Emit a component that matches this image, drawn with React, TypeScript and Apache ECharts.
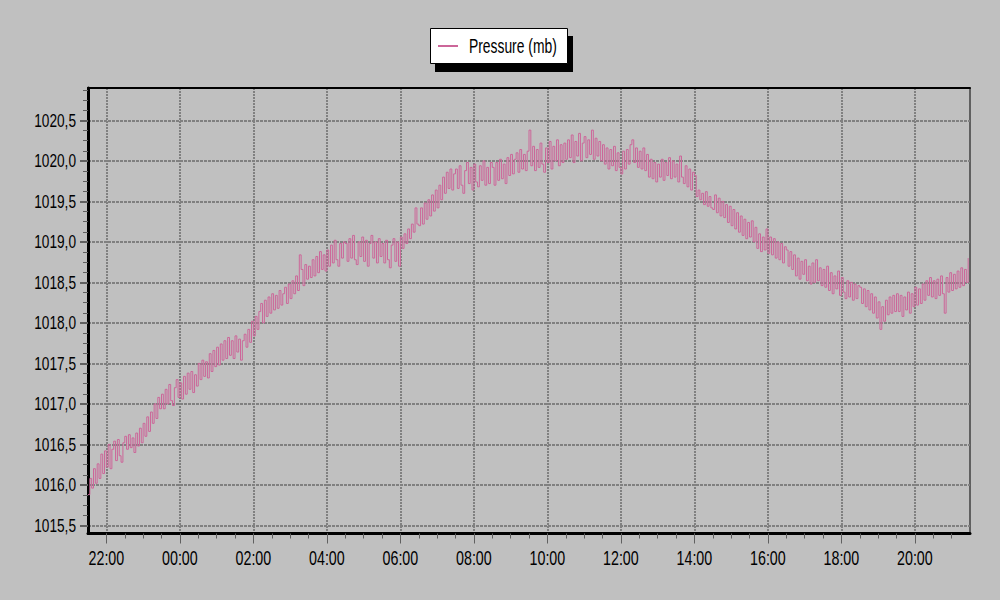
import React, { useEffect, useRef } from "react";
import * as echarts from "echarts";

const seriesName = "Pressure (mb)";
const startHour = 21.5; // 21:30 on day one
const endHour = 45.5; // 21:30 on day two
const stepMinutes = 3;

// one row per hour, one sample every 3 minutes, starting 21:30
const pressure = [
  1015.88, 1016.08, 1015.96, 1016.2, 1016.02, 1016.26, 1016.08, 1016.38, 1016.14, 1016.42, 1016.22, 1016.5, 1016.2, 1016.44, 1016.54, 1016.3, 1016.56, 1016.36, 1016.28, 1016.52,
  1016.6, 1016.44, 1016.62, 1016.46, 1016.58, 1016.4, 1016.64, 1016.48, 1016.7, 1016.52, 1016.76, 1016.6, 1016.84, 1016.66, 1016.9, 1016.76, 1017.0, 1016.82, 1017.08, 1016.94,
  1017.12, 1016.94, 1017.18, 1017.0, 1017.24, 1017.04, 1016.98, 1017.2, 1017.3, 1017.08, 1017.26, 1017.06, 1017.34, 1017.12, 1017.38, 1017.18, 1017.4, 1017.14, 1017.36, 1017.22,
  1017.5, 1017.3, 1017.54, 1017.34, 1017.52, 1017.32, 1017.62, 1017.4, 1017.66, 1017.46, 1017.7, 1017.48, 1017.74, 1017.54, 1017.78, 1017.56, 1017.82, 1017.6, 1017.78, 1017.56,
  1017.84, 1017.64, 1017.8, 1017.54, 1017.78, 1017.86, 1017.7, 1017.92, 1017.76, 1018.02, 1017.84, 1018.08, 1017.92, 1018.14, 1018.24, 1018.0, 1018.28, 1018.08, 1018.32, 1018.12,
  1018.36, 1018.16, 1018.34, 1018.18, 1018.4, 1018.22, 1018.36, 1018.44, 1018.24, 1018.48, 1018.3, 1018.52, 1018.36, 1018.58, 1018.4, 1018.84, 1018.66, 1018.46, 1018.72, 1018.54,
  1018.7, 1018.56, 1018.78, 1018.58, 1018.82, 1018.62, 1018.88, 1018.66, 1018.84, 1018.64, 1018.9, 1018.7, 1018.96, 1018.74, 1019.02, 1018.78, 1018.7, 1018.98, 1018.8, 1019.0,
  1018.98, 1018.76, 1019.04, 1018.8, 1019.08, 1018.78, 1018.72, 1019.0, 1018.82, 1019.06, 1018.76, 1019.02, 1018.7, 1018.98, 1019.08, 1018.8, 1019.0, 1018.74, 1019.04, 1018.82,
  1018.98, 1018.74, 1019.02, 1018.78, 1018.68, 1018.96, 1019.04, 1018.76, 1019.0, 1018.7, 1019.06, 1018.92, 1019.1, 1018.98, 1019.16, 1019.04, 1019.22, 1019.12, 1019.42, 1019.22,
  1019.2, 1019.42, 1019.22, 1019.48, 1019.28, 1019.52, 1019.32, 1019.58, 1019.38, 1019.64, 1019.42, 1019.7, 1019.52, 1019.8, 1019.6, 1019.86, 1019.66, 1019.9, 1019.64, 1019.84,
  1019.9, 1019.66, 1019.94, 1019.7, 1019.6, 1019.88, 1019.98, 1019.72, 1019.92, 1019.64, 1019.96, 1019.74, 1019.68, 1019.94, 1019.76, 1020.0, 1019.7, 1019.92, 1019.72, 1019.98,
  1019.92, 1019.7, 1019.98, 1019.76, 1020.02, 1019.78, 1019.96, 1019.72, 1020.04, 1019.82, 1020.08, 1019.84, 1020.02, 1020.1, 1019.86, 1020.14, 1019.9, 1020.08, 1019.88, 1020.12,
  1020.38, 1019.94, 1020.18, 1019.88, 1020.14, 1019.92, 1020.22, 1019.96, 1019.86, 1020.16, 1019.98, 1020.24, 1019.9, 1020.18, 1020.0, 1020.26, 1019.94, 1020.2, 1019.98, 1020.22,
  1020.02, 1020.26, 1020.04, 1020.32, 1019.98, 1020.24, 1020.06, 1020.34, 1020.0, 1020.22, 1020.3, 1020.04, 1020.26, 1020.08, 1020.38, 1020.02, 1020.28, 1020.06, 1020.24, 1020.0,
  1020.2, 1019.96, 1020.16, 1019.9, 1020.14, 1019.94, 1020.18, 1019.88, 1020.1, 1019.92, 1019.84, 1020.12, 1019.9, 1020.14, 1019.96, 1020.2, 1020.26, 1019.98, 1020.16, 1019.92,
  1020.12, 1019.9, 1020.16, 1019.88, 1020.08, 1019.8, 1020.02, 1019.78, 1019.98, 1019.74, 1019.96, 1019.8, 1020.02, 1019.76, 1019.98, 1019.82, 1020.04, 1019.78, 1020.0, 1019.8,
  1019.96, 1019.74, 1020.06, 1019.8, 1019.72, 1019.94, 1019.68, 1019.9, 1019.64, 1019.86, 1019.82, 1019.56, 1019.64, 1019.52, 1019.6, 1019.46, 1019.62, 1019.44, 1019.56, 1019.42,
  1019.4, 1019.58, 1019.36, 1019.54, 1019.32, 1019.5, 1019.3, 1019.46, 1019.24, 1019.44, 1019.2, 1019.4, 1019.16, 1019.36, 1019.12, 1019.32, 1019.08, 1019.28, 1019.04, 1019.24,
  1019.06, 1019.26, 1019.0, 1019.18, 1018.92, 1019.1, 1018.88, 1019.06, 1018.9, 1019.16, 1018.86, 1019.06, 1018.84, 1019.04, 1018.8, 1019.0, 1018.78, 1018.98, 1018.74, 1018.94,
  1018.9, 1018.7, 1018.88, 1018.66, 1018.84, 1018.58, 1018.8, 1018.54, 1018.76, 1018.6, 1018.78, 1018.52, 1018.7, 1018.48, 1018.74, 1018.5, 1018.78, 1018.52, 1018.68, 1018.46,
  1018.66, 1018.44, 1018.7, 1018.4, 1018.62, 1018.36, 1018.58, 1018.42, 1018.64, 1018.34, 1018.56, 1018.38, 1018.3, 1018.52, 1018.32, 1018.5, 1018.28, 1018.48, 1018.3, 1018.46,
  1018.44, 1018.24, 1018.42, 1018.2, 1018.4, 1018.16, 1018.36, 1018.12, 1018.32, 1018.06, 1018.26, 1017.92, 1018.2, 1018.02, 1018.28, 1018.1, 1018.32, 1018.12, 1018.34, 1018.14,
  1018.36, 1018.14, 1018.34, 1018.08, 1018.32, 1018.16, 1018.38, 1018.12, 1018.36, 1018.2, 1018.44, 1018.22, 1018.42, 1018.24, 1018.48, 1018.28, 1018.52, 1018.34, 1018.56, 1018.32,
  1018.52, 1018.3, 1018.54, 1018.34, 1018.58, 1018.36, 1018.12, 1018.56, 1018.38, 1018.62, 1018.4, 1018.6, 1018.42, 1018.64, 1018.44, 1018.68, 1018.46, 1018.66, 1018.5, 1018.8,
];

const xTickHours = [22, 24, 26, 28, 30, 32, 34, 36, 38, 40, 42, 44];
const xTickLabels = ["22:00", "00:00", "02:00", "04:00", "06:00", "08:00", "10:00", "12:00", "14:00", "16:00", "18:00", "20:00"];
const yTickValues = [1015.5, 1016.0, 1016.5, 1017.0, 1017.5, 1018.0, 1018.5, 1019.0, 1019.5, 1020.0, 1020.5];
const yTickLabels = ["1015,5", "1016,0", "1016,5", "1017,0", "1017,5", "1018,0", "1018,5", "1019,0", "1019,5", "1020,0", "1020,5"];
const yMin = 1015.4;
const yMax = 1020.9;

const FONT = "'Liberation Sans', Arial, sans-serif";
const LINE_COLOR = "#cc6699";

export default function App() {
  const ref = useRef<HTMLDivElement>(null);

  useEffect(() => {
    if (!ref.current) return;
    const chart = echarts.init(ref.current, null, { renderer: "svg" });

    const seriesData = pressure.map((v, i) => [startHour + (i * stepMinutes) / 60, v]);

    const xMinor: number[] = [];
    for (let h = 22; h < endHour; h += 0.5) xMinor.push(h);
    const yMinor: number[] = [];
    for (let v = 1015.5; v <= yMax; v += 0.125) yMinor.push(Math.round(v * 1000) / 1000);

    chart.setOption({
      animation: false,
      backgroundColor: "#c0c0c0",
      grid: {
        left: 88,
        right: 30,
        top: 88,
        bottom: 66.5,
        show: true,
        borderColor: "#000",
        borderWidth: 1,
        backgroundColor: "transparent",
        containLabel: false,
        outerBoundsMode: "none",
      },
      xAxis: [
        {
          type: "value",
          min: startHour,
          max: endHour,
          position: "bottom",
          axisLine: { show: true, onZero: false, lineStyle: { color: "#000", width: 3 } },
          axisTick: { show: true, customValues: xTickHours, length: 10, lineStyle: { color: "#606060", width: 1 } },
          axisLabel: { show: false, customValues: xTickHours },
          splitLine: { show: true, lineStyle: { color: "#808080", width: 2, type: [2, 1] } },
        },
        {
          type: "value",
          min: startHour,
          max: endHour,
          position: "bottom",
          axisLine: { show: false },
          axisTick: { show: true, customValues: xMinor, length: 5, lineStyle: { color: "#606060", width: 1 } },
          axisLabel: { show: false },
          splitLine: { show: false },
        },
        {
          type: "value",
          min: startHour,
          max: endHour,
          position: "top",
          axisLine: { show: true, onZero: false, lineStyle: { color: "#000", width: 2 } },
          axisTick: { show: false },
          axisLabel: { show: false },
          splitLine: { show: false },
        },
      ],
      yAxis: [
        {
          type: "value",
          min: yMin,
          max: yMax,
          position: "left",
          axisLine: { show: true, onZero: false, lineStyle: { color: "#000", width: 3 } },
          axisTick: { show: true, customValues: yTickValues, length: 8, lineStyle: { color: "#606060", width: 2 } },
          axisLabel: { show: false, customValues: yTickValues },
          splitLine: { show: true, lineStyle: { color: "#808080", width: 2, type: [3, 1] } },
        },
        {
          type: "value",
          min: yMin,
          max: yMax,
          position: "left",
          axisLine: { show: false },
          axisTick: { show: true, customValues: yMinor, length: 5, lineStyle: { color: "#606060", width: 1 } },
          axisLabel: { show: false },
          splitLine: { show: false },
        },
      ],
      series: [
        {
          name: seriesName,
          type: "line",
          step: "end",
          xAxisIndex: 0,
          yAxisIndex: 0,
          data: seriesData,
          symbol: "none",
          showSymbol: false,
          color: LINE_COLOR,
          lineStyle: { color: LINE_COLOR, width: 1 },
        },
      ],
    });

    // Condensed tick labels, placed through the axes' own scales
    const graphics: any[] = [];
    xTickHours.forEach((h, i) => {
      const px = chart.convertToPixel({ xAxisIndex: 0 }, h) as number;
      graphics.push({
        type: "text",
        x: px,
        y: 558,
        scaleX: 0.68,
        silent: true,
        style: { text: xTickLabels[i], fontFamily: FONT, fontSize: 21, fill: "#000", align: "center", verticalAlign: "middle" },
      });
    });
    yTickValues.forEach((v, i) => {
      const py = chart.convertToPixel({ yAxisIndex: 0 }, v) as number;
      graphics.push({
        type: "text",
        x: 76,
        y: py,
        scaleX: 0.76,
        silent: true,
        style: { text: yTickLabels[i], fontFamily: FONT, fontSize: 18, fill: "#000", align: "right", verticalAlign: "middle" },
      });
    });

    // Legend box with hard drop shadow
    graphics.push(
      { type: "rect", silent: true, shape: { x: 435, y: 36, width: 138, height: 36 }, style: { fill: "#000" } },
      { type: "rect", silent: true, shape: { x: 430.5, y: 28.5, width: 137, height: 35 }, style: { fill: "#fff", stroke: "#000", lineWidth: 1 } },
      { type: "line", silent: true, shape: { x1: 438, y1: 46, x2: 458, y2: 46 }, style: { stroke: LINE_COLOR, lineWidth: 2 } },
      {
        type: "text",
        x: 469,
        y: 46,
        scaleX: 0.66,
        silent: true,
        style: { text: seriesName, fontFamily: FONT, fontSize: 21, fill: "#000", align: "left", verticalAlign: "middle" },
      }
    );

    chart.setOption({ graphic: graphics });

    return () => chart.dispose();
  }, []);

  return (
    <div
      ref={ref}
      style={{ position: "fixed", left: 0, top: 0, width: 1000, height: 600, background: "#c0c0c0" }}
    />
  );
}
